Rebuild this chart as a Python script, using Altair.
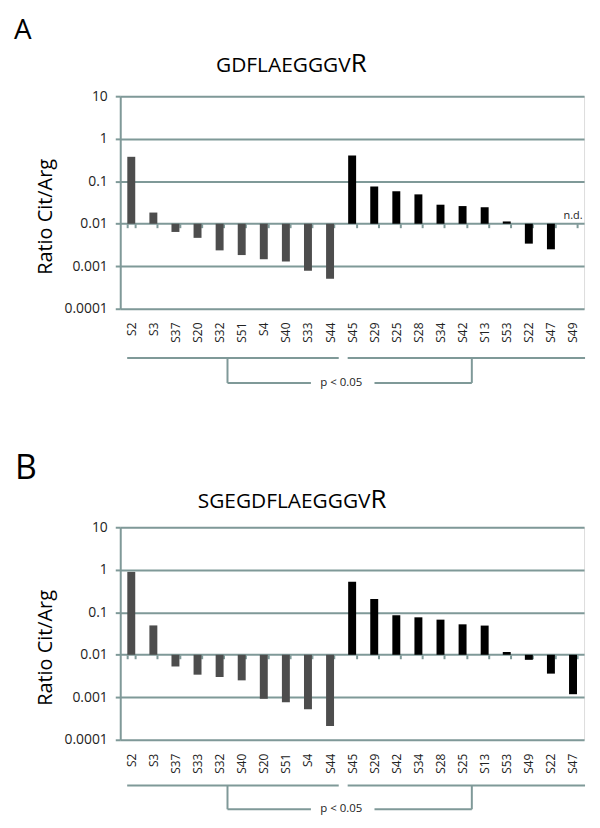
import altair as alt
import pandas as pd

LC = "#7f9998"
GRAY = "#4d4d4d"
W, H = 467, 214

y_ticks = [10, 1, 0.1, 0.01, 0.001, 0.0001]
baseline = 0.01

a_cats = ["S2", "S3", "S37", "S20", "S32", "S51", "S4", "S40", "S33", "S44",
          "S45", "S29", "S25", "S28", "S34", "S42", "S13", "S53", "S22", "S47", "S49"]
a_vals = [0.375, 0.0183, 0.0064, 0.00465, 0.00236, 0.00183, 0.00146, 0.00129, 0.00078, 0.00051,
          0.40, 0.075, 0.058, 0.049, 0.028, 0.026, 0.0244, 0.0113, 0.0034, 0.0025, None]

b_cats = ["S2", "S3", "S37", "S33", "S32", "S40", "S20", "S51", "S4", "S44",
          "S45", "S29", "S42", "S34", "S28", "S25", "S13", "S53", "S49", "S22", "S47"]
b_vals = [0.89, 0.049, 0.0053, 0.0034, 0.0030, 0.0025, 0.00092, 0.00076, 0.00052, 0.00021,
          0.52, 0.205, 0.085, 0.076, 0.067, 0.052, 0.0486, 0.0116, 0.0076, 0.0036, 0.00118]

groups = ["group1"] * 10 + ["group2"] * 11


def one(df_val):
    return pd.DataFrame({"t": [df_val]})


def text_mark(txt, x, y, size, align="left", baseline_="alphabetic", color="black"):
    return alt.Chart(one(txt)).mark_text(
        fontSize=size, align=align, baseline=baseline_, color=color, font="Open Sans"
    ).encode(x=alt.value(x), y=alt.value(y), text="t:N")


def rule(x1, x2, y1, y2):
    return alt.Chart(one("r")).mark_rule(color=LC, strokeWidth=2).encode(
        x=alt.value(x1), x2=alt.value(x2), y=alt.value(y1), y2=alt.value(y2)
    )


def panel(letter, letter_size, letter_x, letter_y, pep, r_x, title_y, cats, vals, nd, by, bb):
    df = pd.DataFrame({"cat": cats, "val": vals, "grp": groups})
    xscale = alt.Scale(paddingInner=0.64, paddingOuter=0.32)
    x = alt.X(
        "cat:N", sort=cats, scale=xscale,
        axis=alt.Axis(
            orient="bottom", offset=-H * 2 / 5, domain=False, ticks=True,
            tickBand="extent", tickSize=4, tickWidth=2, tickColor=LC,
            labelAngle=-90, labelPadding=95, labelFontSize=12, labelColor="#222",
            title=None, grid=False,
        ),
    )
    y = alt.Y(
        "val:Q",
        scale=alt.Scale(type="log", domain=[0.0001, 10], nice=False),
        axis=alt.Axis(
            values=y_ticks, format="~g", grid=True, gridColor=LC, gridWidth=2,
            domainColor=LC, domainWidth=2, tickColor=LC, tickWidth=2, tickSize=5,
            labelFontSize=14, labelColor="#222", labelPadding=8,
            title="Ratio Cit/Arg", titleFontSize=20, titleFontWeight="normal",
            titleColor="black", titlePadding=8, titleY=121,
        ),
    )
    bars = alt.Chart(df).mark_bar().encode(
        x=x, y=y, y2=alt.datum(baseline),
        color=alt.Color("grp:N", scale=alt.Scale(domain=["group1", "group2"],
                                                range=[GRAY, "#000000"]), legend=None),
    )
    layers = [bars]
    if nd:
        ndf = pd.DataFrame({"cat": [nd], "t": ["n.d."]})
        layers.append(
            alt.Chart(ndf).mark_text(fontSize=11, baseline="bottom", dy=-3, color="#222").encode(
                x=alt.X("cat:N", sort=cats), y=alt.datum(baseline), text="t:N"
            )
        )
    layers += [
        text_mark(letter, letter_x, letter_y, letter_size, baseline_="top"),
        text_mark(pep, r_x, title_y, 21, align="right"),
        text_mark("R", r_x, title_y, 26, align="left"),
        rule(7, 220, by, by),
        rule(229, 468, by, by),
        rule(108, 108, by, bb),
        rule(354, 354, by, bb),
        rule(108, 192, bb, bb),
        rule(256, 354, bb, bb),
        text_mark("p < 0.05", 222.5, bb, 11.5, align="center", baseline_="middle", color="#222"),
    ]
    return alt.layer(*layers).properties(width=W, height=H)


pA = panel("A", 28, -107, -80, "GDFLAEGGGV", 232, -24.7, a_cats, a_vals, "S49", 263.7, 288.7)
pB = panel("B", 34, -106, -76, "SGEGDFLAEGGGV", 252, -19.4, b_cats, b_vals, None, 260, 284)

chart = alt.vconcat(pA, pB, spacing=220, bounds="flush").configure_view(
    stroke=None
).configure(font="Open Sans")

chart.save("out.html", embed_options={"renderer": "svg", "actions": False})
